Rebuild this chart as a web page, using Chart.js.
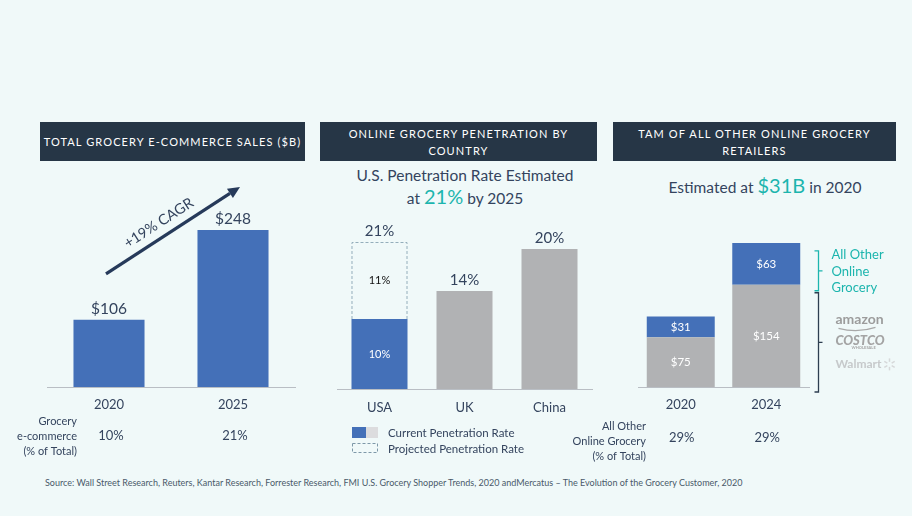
<!DOCTYPE html>
<html><head><meta charset="utf-8">
<script src="https://cdn.jsdelivr.net/npm/chart.js@4.4.1/dist/chart.umd.min.js"></script>
<style>
html,body{margin:0;padding:0;}
body{width:912px;height:516px;background:#f0f9f9;position:relative;overflow:hidden;font-family:Lato,'Open Sans',sans-serif;}
canvas{position:absolute;left:0;top:0;}
.hdr{position:absolute;top:122px;height:39px;background:#263646;color:#fff;font-size:11px;letter-spacing:1.1px;text-align:center;display:flex;align-items:center;justify-content:center;line-height:17px;white-space:nowrap;}
.sub{position:absolute;color:#34445e;font-size:15.5px;text-align:center;line-height:21px;white-space:nowrap;}
.teal{color:#1cb5ae;font-size:20px;}
.foot{position:absolute;left:45px;top:477px;font-size:9px;color:#4a5a6a;white-space:nowrap;}
</style></head>
<body>
<div class="hdr" style="left:40px;width:265px;">TOTAL GROCERY E-COMMERCE SALES ($B)</div>
<div class="hdr" style="left:320px;width:277px;">ONLINE GROCERY PENETRATION BY<br>COUNTRY</div>
<div class="hdr" style="left:613px;width:283px;">TAM OF ALL OTHER ONLINE GROCERY<br>RETAILERS</div>
<div class="sub" style="left:330px;width:270px;top:165px;">U.S. Penetration Rate Estimated<br>at <span class="teal">21%</span> by 2025</div>
<div class="sub" style="left:630px;width:270px;top:175px;">Estimated at <span class="teal">$31B</span> in 2020</div>
<div class="foot">Source: Wall Street Research, Reuters, Kantar Research, Forrester Research, FMI U.S. Grocery Shopper Trends, 2020 andMercatus – The Evolution of the Grocery Customer, 2020</div>
<canvas id="c1" width="912" height="516"></canvas>
<canvas id="c2" width="912" height="516"></canvas>
<canvas id="c3" width="912" height="516"></canvas>
<script>
// ---- data ----
const salesYears = ['2020', '2025'];
const salesValues = [106, 248];
const salesShare = ['10%', '21%'];
const cagrLabel = '+19% CAGR';

const countries = ['USA', 'UK', 'China'];
const currentRate = [10, 14, 20];
const projectedExtra = [11, null, null];

const tamYears = ['2020', '2024'];
const bigThree = [75, 154];
const allOther = [31, 63];
const allOtherShare = ['29%', '29%'];

// ---- styles ----
const FONT = 'Lato, "Open Sans", sans-serif';
const TXT = '#34445e';
const BLUE = '#4470b8';
const GRAY = '#b1b2b4';
const TEAL = '#1cb5ae';
const AXIS = '#b9bec4';

function baseOptions(pad, max, barPct, stacked, tickPad) {
  return {
    responsive: false, animation: false,
    layout: { padding: pad },
    plugins: { legend: { display: false }, tooltip: { enabled: false } },
    scales: {
      x: {
        stacked: stacked,
        grid: { display: false, drawTicks: false },
        border: { display: true, color: AXIS, width: 1 },
        ticks: { color: TXT, font: { family: FONT, size: 13 }, padding: tickPad },
        afterFit: (a) => { a.height = 30; }
      },
      y: { stacked: stacked, display: false, min: 0, max: max }
    },
    datasets: { bar: { categoryPercentage: 1, barPercentage: barPct } }
  };
}

// ---- chart 1 ----
new Chart(document.getElementById('c1'), {
  type: 'bar',
  data: { labels: salesYears, datasets: [{ data: salesValues, backgroundColor: BLUE }] },
  options: baseOptions({ left: 47, right: 617, top: 197, bottom: 99 }, 300, 0.573, false, 10),
  plugins: [{
    id: 'p1',
    afterDraw(chart) {
      const ctx = chart.ctx, bars = chart.getDatasetMeta(0).data, ca = chart.chartArea, xs = chart.scales.x;
      ctx.save();
      ctx.fillStyle = TXT; ctx.textAlign = 'center'; ctx.textBaseline = 'middle';
      ctx.font = '15.5px ' + FONT;
      bars.forEach((b, i) => ctx.fillText('$' + salesValues[i], b.x, b.y - 11));
      // share row
      ctx.font = '11px ' + FONT; ctx.textAlign = 'right';
      ['Grocery', 'e-commerce', '(% of Total)'].forEach((t, k) => ctx.fillText(t, ca.left + 30, ca.bottom + 34 + 15 * k));
      ctx.font = '13px ' + FONT; ctx.textAlign = 'center';
      salesShare.forEach((t, i) => ctx.fillText(t, xs.getPixelForValue(i) + 2, ca.bottom + 49));
      // CAGR arrow
      const x0 = bars[0].x - 3, y0 = bars[0].y - 46, x1 = bars[1].x + 7, y1 = bars[1].y - 43;
      const ang = Math.atan2(y1 - y0, x1 - x0);
      ctx.strokeStyle = '#263a5a'; ctx.fillStyle = '#263a5a'; ctx.lineWidth = 3.2; ctx.lineCap = 'butt';
      const hl = 12;
      ctx.beginPath(); ctx.moveTo(x0, y0);
      ctx.lineTo(x1 - hl * Math.cos(ang), y1 - hl * Math.sin(ang)); ctx.stroke();
      ctx.beginPath(); ctx.moveTo(x1, y1);
      ctx.lineTo(x1 - hl * Math.cos(ang) + 5.5 * Math.sin(ang), y1 - hl * Math.sin(ang) - 5.5 * Math.cos(ang));
      ctx.lineTo(x1 - hl * Math.cos(ang) - 5.5 * Math.sin(ang), y1 - hl * Math.sin(ang) + 5.5 * Math.cos(ang));
      ctx.closePath(); ctx.fill();
      const f = 0.45, off = 14;
      const tx = x0 + f * (x1 - x0) + off * Math.sin(ang), ty = y0 + f * (y1 - y0) - off * Math.cos(ang);
      ctx.translate(tx, ty); ctx.rotate(ang);
      ctx.fillStyle = TXT; ctx.font = '14.5px ' + FONT; ctx.textAlign = 'center'; ctx.textBaseline = 'middle';
      ctx.fillText(cagrLabel, 0, 0);
      ctx.restore();
    }
  }]
});

// ---- chart 2 ----
const currentColors = countries.map((c, i) => i === 0 ? BLUE : GRAY);
new Chart(document.getElementById('c2'), {
  type: 'bar',
  data: {
    labels: countries,
    datasets: [
      { label: 'Current Penetration Rate', data: currentRate, backgroundColor: currentColors },
      { label: 'Projected Penetration Rate', data: projectedExtra, backgroundColor: 'rgba(0,0,0,0)' }
    ]
  },
  options: baseOptions({ left: 337, right: 320, top: 214, bottom: 97 }, 25, 0.659, true, 11),
  plugins: [{
    id: 'p2',
    afterDraw(chart) {
      const ctx = chart.ctx, cur = chart.getDatasetMeta(0).data, proj = chart.getDatasetMeta(1).data, ys = chart.scales.y;
      ctx.save();
      // dashed projected box
      proj.forEach((b, i) => {
        if (projectedExtra[i] == null) return;
        const w = b.width, l = b.x - w / 2, r = b.x + w / 2, top = b.y, bot = b.base;
        ctx.strokeStyle = '#94aebb'; ctx.lineWidth = 1; ctx.setLineDash([3, 2]);
        ctx.beginPath(); ctx.moveTo(l + 0.5, bot); ctx.lineTo(l + 0.5, top + 0.5); ctx.lineTo(r - 0.5, top + 0.5); ctx.lineTo(r - 0.5, bot); ctx.stroke();
        ctx.setLineDash([]);
        ctx.fillStyle = '#111'; ctx.font = '11px ' + FONT; ctx.textAlign = 'center'; ctx.textBaseline = 'middle';
        ctx.fillText(projectedExtra[i] + '%', b.x, (top + bot) / 2);
      });
      // inside label for USA current
      ctx.fillStyle = '#fff'; ctx.font = '11px ' + FONT; ctx.textAlign = 'center'; ctx.textBaseline = 'middle';
      ctx.fillText(currentRate[0] + '%', cur[0].x, (cur[0].y + cur[0].base) / 2);
      // totals above
      ctx.fillStyle = TXT; ctx.font = '15px ' + FONT;
      countries.forEach((c, i) => {
        const tot = currentRate[i] + (projectedExtra[i] || 0);
        ctx.fillText(tot + '%', cur[i].x, ys.getPixelForValue(tot) - 11);
      });
      // legend
      const lx = chart.chartArea.left + 15, ly = chart.chartArea.bottom + 38;
      ctx.fillStyle = BLUE; ctx.fillRect(lx, ly, 14, 11);
      ctx.fillStyle = '#dcdcde'; ctx.fillRect(lx + 14, ly, 12, 11);
      ctx.strokeStyle = '#7e98a8'; ctx.setLineDash([3, 2]); ctx.lineWidth = 1;
      ctx.strokeRect(lx + 0.5, ly + 16.5, 25, 9); ctx.setLineDash([]);
      ctx.fillStyle = TXT; ctx.font = '11.5px ' + FONT; ctx.textAlign = 'left';
      ctx.fillText(chart.data.datasets[0].label, lx + 36, ly + 6);
      ctx.fillText(chart.data.datasets[1].label, lx + 36, ly + 22);
      ctx.restore();
    }
  }]
});

// ---- chart 3 ----
new Chart(document.getElementById('c3'), {
  type: 'bar',
  data: {
    labels: tamYears,
    datasets: [
      { label: 'Amazon, Costco, Walmart', data: bigThree, backgroundColor: GRAY },
      { label: 'All Other Online Grocery', data: allOther, backgroundColor: BLUE }
    ]
  },
  options: baseOptions({ left: 638, right: 103, top: 221, bottom: 99 }, 250, 0.795, true, 10),
  plugins: [{
    id: 'p3',
    afterDraw(chart) {
      const ctx = chart.ctx, ca = chart.chartArea, ys = chart.scales.y, xs = chart.scales.x;
      ctx.save();
      ctx.fillStyle = '#fff'; ctx.font = '11.5px ' + FONT; ctx.textAlign = 'center'; ctx.textBaseline = 'middle';
      [0, 1].forEach(d => {
        chart.getDatasetMeta(d).data.forEach((b, i) => {
          const v = chart.data.datasets[d].data[i];
          ctx.fillText('$' + v, b.x, (b.y + b.base) / 2);
        });
      });
      // share row
      ctx.fillStyle = TXT; ctx.font = '11px ' + FONT; ctx.textAlign = 'right';
      ['All Other', 'Online Grocery', '(% of Total)'].forEach((t, k) => ctx.fillText(t, ca.left + 8, ca.bottom + 39 + 15 * k));
      ctx.font = '13px ' + FONT; ctx.textAlign = 'center';
      allOtherShare.forEach((t, i) => ctx.fillText(t, xs.getPixelForValue(i) + 1, ca.bottom + 51));
      // braces
      const bx = ca.right + 9.5;
      const yTop = ys.getPixelForValue(bigThree[1] + allOther[1]);
      const yMid = ys.getPixelForValue(bigThree[1]);
      const yBase = ys.getPixelForValue(0);
      function brace(y1, y2, col) {
        ctx.strokeStyle = col; ctx.lineWidth = 1.3;
        ctx.beginPath();
        ctx.moveTo(bx - 4, y1); ctx.lineTo(bx, y1); ctx.lineTo(bx, y2); ctx.lineTo(bx - 4, y2);
        ctx.moveTo(bx, (y1 + y2) / 2); ctx.lineTo(bx + 4, (y1 + y2) / 2);
        ctx.stroke();
      }
      brace(yTop + 8, yMid + 6, TEAL);
      brace(yMid + 8, yBase + 5, '#2d3e50');
      ctx.fillStyle = TEAL; ctx.font = '13px ' + FONT; ctx.textAlign = 'left';
      ['All Other', 'Online', 'Grocery'].forEach((t, k) => ctx.fillText(t, bx + 13, yTop + 12 + 16.5 * k));
      // logos (text)
      const lx = bx + 17, lm = (yMid + 8 + yBase + 5) / 2;
      ctx.fillStyle = '#9c9c9c'; ctx.font = 'bold 14px ' + FONT;
      ctx.fillText('amazon', lx, lm - 23);
      ctx.strokeStyle = '#a8a8a8'; ctx.lineWidth = 1.2;
      ctx.beginPath(); ctx.moveTo(lx + 3, lm - 14); ctx.quadraticCurveTo(lx + 22, lm - 9, lx + 40, lm - 15); ctx.stroke();
      ctx.fillStyle = '#a4a4a4'; ctx.font = 'italic 900 13px ' + FONT;
      ctx.fillText('COSTCO', lx, lm - 2);
      ctx.font = 'bold 4px ' + FONT; ctx.fillText('WHOLESALE', lx + 16, lm + 5);
      ctx.fillStyle = '#c6c9cb'; ctx.font = 'bold 12px ' + FONT;
      ctx.fillText('Walmart', lx, lm + 22);
      const sx = lx + 54, sy = lm + 22;
      ctx.strokeStyle = '#d6d8d9'; ctx.lineWidth = 1.5;
      for (let a = 0; a < 6; a++) {
        const t = a * Math.PI / 3 + Math.PI / 2;
        ctx.beginPath(); ctx.moveTo(sx + 2.5 * Math.cos(t), sy + 2.5 * Math.sin(t)); ctx.lineTo(sx + 6 * Math.cos(t), sy + 6 * Math.sin(t)); ctx.stroke();
      }
      ctx.restore();
    }
  }]
});
</script>
</body></html>
